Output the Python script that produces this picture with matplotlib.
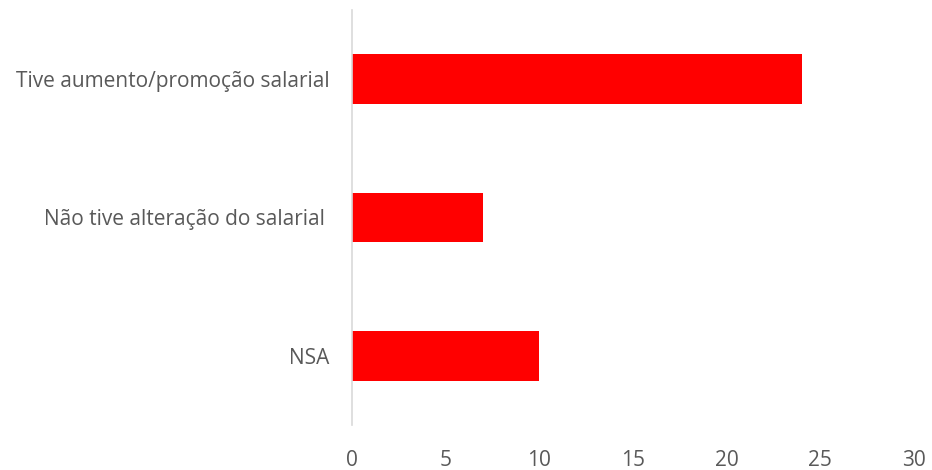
import matplotlib
matplotlib.use("Agg")
import matplotlib.pyplot as plt

categories = ["Tive aumento/promoção salarial", "Não tive alteração do salarial ", "NSA"]
values = [24, 7, 10]
xticks = [0, 5, 10, 15, 20, 25, 30]

plt.rcParams['font.family'] = ['Open Sans', 'DejaVu Sans']

fig = plt.figure(figsize=(9.32, 4.70), dpi=100)
ax = fig.add_axes([352 / 932, 45 / 470, 562 / 932, 415 / 470])

pos = list(range(len(categories)))
ax.barh(pos, values, height=0.36, color="#FF0000")

ax.set_xlim(0, 30)
ax.set_ylim(len(categories) - 0.5, -0.5)
ax.set_yticks(pos)
ax.set_yticklabels(categories, fontsize=15, color="#595959")
ax.set_xticks(xticks)
ax.set_xticklabels([str(t) for t in xticks], fontsize=15, color="#595959")
ax.tick_params(axis="both", length=0)
ax.tick_params(axis="y", pad=16)
ax.tick_params(axis="x", pad=18)

for s in ["top", "right", "bottom"]:
    ax.spines[s].set_visible(False)
ax.spines["left"].set_color("#D9D9D9")
ax.spines["left"].set_linewidth(1.2)

fig.savefig("out.png", dpi=100)
